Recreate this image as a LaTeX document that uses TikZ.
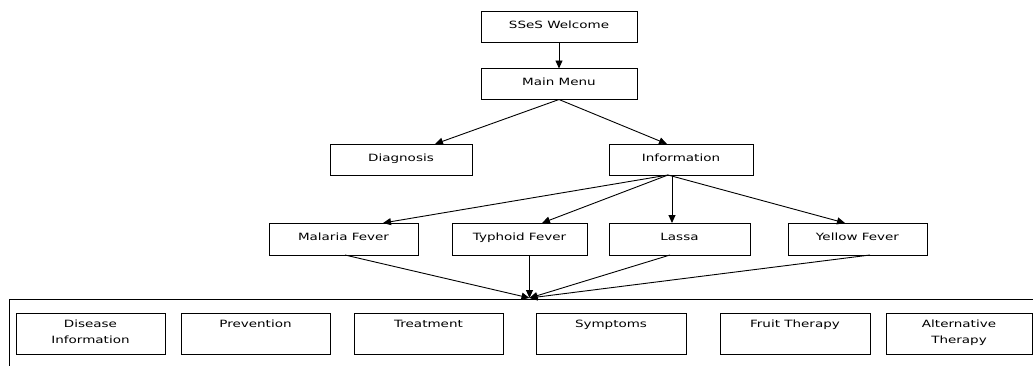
\documentclass[tikz,border=0pt]{standalone}
\usepackage{fontspec}
\newfontfamily\chartfont[FakeStretch=1.35]{DejaVu Sans}
\usetikzlibrary{positioning}
\usetikzlibrary{arrows.meta}

\begin{document}
\begin{tikzpicture}[x=1pt, y=1pt, every node/.style={inner sep=0, outer sep=0, font=\chartfont\fontsize{10}{16}\selectfont}, align=center,
	box/.style={draw, line width=1pt, minimum height=31pt, text height=6.5pt, text depth=3.5pt},
	topic/.style={draw, line width=1pt, minimum width=149pt, text height=14.5pt, text depth=26.5pt},
	twoline/.style={text height=30.5pt, text depth=10.5pt},
	arr/.style={-{Triangle[length=8pt,width=7pt]}, line width=0.9pt}]
		
		\useasboundingbox (0,0) rectangle (1033,-365);
		\clip (0,0) rectangle (1033,-365);
		
		%Nodes
		\node[box, minimum width=156pt] (welcome) at (559,-27) {SSeS Welcome};
		\node[box, minimum width=156pt] (menu) [below=26pt of welcome] {Main Menu};
		\node[box, minimum width=142pt] (diag) at (401,-159.5) {Diagnosis};
		\node[box, minimum width=144pt] (info) [right=137pt of diag] {Information};
		\node[box, minimum width=149pt, minimum height=32pt] (malaria) at (343.5,-239) {Malaria Fever};
		\node[box, minimum width=135pt, minimum height=32pt] (typhoid) [right=34pt of malaria] {Typhoid Fever};
		\node[box, minimum width=141pt, minimum height=32pt] (lassa) [right=22pt of typhoid] {Lassa};
		\node[box, minimum width=139pt, minimum height=32pt] (yellow) [right=38pt of lassa] {Yellow Fever};
		\node[draw, line width=1pt, minimum width=1040pt, minimum height=90pt, anchor=north west] (topics) at (9,-299) {};
		\node[topic, twoline] (disease) at (90.5,-333.5) {Disease\\Information};
		\node[topic] (prevention) [right=16pt of disease] {Prevention};
		\node[topic] (treatment) [right=24pt of prevention] {Treatment};
		\node[topic, minimum width=150pt] (symptoms) [right=33pt of treatment] {Symptoms};
		\node[topic, minimum width=150pt] (fruit) [right=34pt of symptoms] {Fruit Therapy};
		\node[topic, twoline, minimum width=146pt] (alternative) [right=16pt of fruit] {Alternative\\Therapy};
		\coordinate (hub) at (529.5,-298);
		
		%Lines
		\draw[arr] (welcome) -- (menu);
		\draw[arr] (menu.south) -- ([xshift=34pt]diag.north);
		\draw[arr] (menu.south) -- ([xshift=-14pt]info.north);
		\draw[arr] ([xshift=-13pt]info.south) -- ([xshift=39.5pt]malaria.north);
		\draw[arr] ([xshift=-13pt]info.south) -- ([xshift=22.5pt]typhoid.north);
		\draw[arr] ([xshift=-9pt]info.south) -- ([xshift=-7.5pt]lassa.north);
		\draw[arr] ([xshift=-13pt]info.south) -- ([xshift=-12.5pt]yellow.north);
		\draw[arr] ([xshift=1.5pt]malaria.south) -- (hub);
		\draw[arr] ([xshift=10pt]typhoid.south) -- (hub);
		\draw[arr] ([xshift=-9.5pt]lassa.south) -- (hub);
		\draw[arr] ([xshift=12.5pt]yellow.south) -- (hub);
	\end{tikzpicture}
\end{document}
